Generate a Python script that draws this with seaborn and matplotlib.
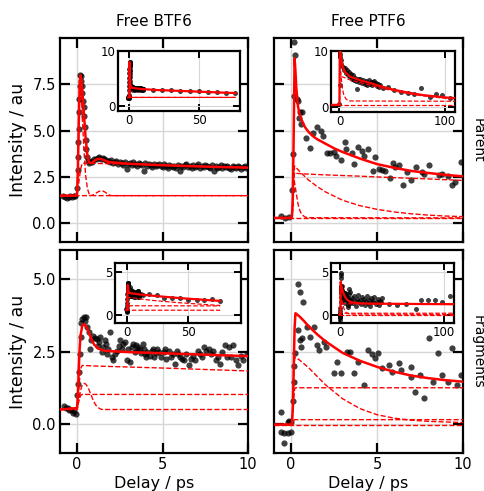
import matplotlib
matplotlib.use('Agg')
import matplotlib.pyplot as plt
import seaborn as sns

# ---------------- data ----------------
# Free BTF6, parent
tl_x = [-0.8, -0.7, -0.6, -0.5, -0.4, -0.3, -0.2, -0.1, 0.0, 0.03,
        0.06, 0.08, 0.1, 0.12, 0.14, 0.16, 0.18, 0.2, 0.23, 0.26,
        0.3, 0.34, 0.38, 0.42, 0.46, 0.5, 0.55, 0.6, 0.65, 0.7,
        0.8, 0.9, 1.0, 1.1, 1.2, 1.3, 1.4, 1.5, 1.6, 1.7,
        1.8, 1.9, 2.0, 2.1, 2.2, 2.3, 2.4, 2.5, 2.6, 2.7,
        2.8, 2.9, 3.0, 3.1, 3.2, 3.3, 3.4, 3.5, 3.6, 3.7,
        3.8, 3.9, 4.0, 4.1, 4.2, 4.3, 4.4, 4.5, 4.6, 4.7,
        4.8, 4.9, 5.0, 5.1, 5.2, 5.3, 5.4, 5.5, 5.6, 5.7,
        5.8, 5.9, 6.0, 6.1, 6.2, 6.3, 6.4, 6.5, 6.6, 6.7,
        6.8, 6.9, 7.0, 7.1, 7.2, 7.3, 7.4, 7.5, 7.6, 7.7,
        7.8, 7.9, 8.0, 8.1, 8.2, 8.3, 8.4, 8.5, 8.6, 8.7,
        8.8, 8.9, 9.0, 9.1, 9.2, 9.3, 9.4, 9.5, 9.6, 9.7,
        9.8, 9.9, 10.0]
tl_y = [1.5, 1.45, 1.4, 1.45, 1.5, 1.45, 1.5, 1.5, 1.9, 2.9,
        3.6, 4.4, 5.1, 6.0, 6.7, 7.4, 8.0, 7.95, 7.7, 7.4,
        7.05, 6.6, 6.3, 5.8, 5.2, 4.5, 4.0, 3.6, 3.35, 3.25,
        3.35, 3.3, 3.45, 3.5, 3.55, 3.6, 3.5, 3.55, 3.45, 3.4,
        3.35, 3.3, 3.4, 3.25, 3.3, 3.35, 3.2, 3.3, 3.25, 3.15,
        3.3, 2.92, 3.2, 3.25, 3.15, 3.3, 3.2, 3.1, 3.25, 3.2,
        3.15, 2.83, 3.25, 3.1, 3.2, 3.15, 3.05, 3.2, 3.1, 3.15,
        3.2, 3.1, 3.05, 3.2, 3.1, 3.0, 3.15, 3.1, 3.05, 3.1,
        3.0, 3.15, 2.85, 3.1, 3.05, 3.15, 3.2, 3.05, 3.1, 3.0,
        3.15, 3.05, 3.1, 3.2, 3.0, 3.1, 3.05, 3.15, 3.1, 3.05,
        3.0, 3.15, 2.85, 3.1, 3.0, 3.05, 3.15, 3.0, 3.1, 3.05,
        3.1, 3.0, 2.95, 3.1, 3.05, 3.0, 3.1, 3.05, 2.95, 3.05,
        3.1, 3.0, 3.05]
tl_tail_x = [17, 23.5, 30, 36.5, 43, 49.5, 56, 62.5, 69, 75.5]
tl_tail_y = [2.95, 2.9, 2.85, 2.75, 2.7, 2.6, 2.55, 2.45, 2.4, 2.25]

tl_fit_x = [-1, -0.1, 0.0, 0.05, 0.1, 0.15, 0.2, 0.25, 0.3, 0.4,
            0.5, 0.6, 0.7, 0.8, 0.9, 1.0, 1.2, 1.4, 1.6, 1.8,
            2.0, 2.5, 3, 4, 5, 6, 7, 8, 9, 10,
            20, 30, 40, 50, 60, 70, 76]
tl_fit_y = [1.5, 1.5, 1.6, 3.0, 5.5, 7.5, 8.0, 7.7, 7.2, 5.9,
            4.6, 3.7, 3.3, 3.25, 3.3, 3.38, 3.48, 3.48, 3.4, 3.33,
            3.3, 3.26, 3.22, 3.18, 3.14, 3.11, 3.08, 3.05, 3.03, 3.01,
            2.85, 2.75, 2.65, 2.55, 2.45, 2.35, 2.3]
tl_fast_x = [-1, -0.05, 0.0, 0.05, 0.1, 0.15, 0.2, 0.25, 0.3, 0.4, 0.5, 0.6, 0.7, 0.8, 1.0, 76]
tl_fast_y = [1.5, 1.5, 1.6, 2.9, 5.2, 7.0, 7.5, 7.0, 5.8, 4.0, 2.6, 1.9, 1.6, 1.52, 1.5, 1.5]
tl_step_x = [-1, 0.0, 0.1, 0.2, 0.3, 0.5, 1, 2, 4, 6, 8, 10, 20, 40, 60, 76]
tl_step_y = [1.5, 1.5, 2.2, 2.9, 3.25, 3.25, 3.24, 3.22, 3.18, 3.12, 3.06, 3.01, 2.85, 2.65, 2.45, 2.3]
tl_bump_x = [-1, 0.8, 0.9, 1.0, 1.1, 1.2, 1.3, 1.4, 1.5, 1.6, 1.7, 1.8, 1.9, 2.0, 76]
tl_bump_y = [1.5, 1.5, 1.52, 1.57, 1.63, 1.69, 1.74, 1.76, 1.75, 1.71, 1.65, 1.58, 1.53, 1.5, 1.5]

# Free PTF6, parent
tr_x = [-0.6, -0.34, -0.15, 0.05, 0.09, 0.15, 0.19, 0.23, 0.34, 0.4,
        0.46, 0.5, 0.58, 0.66, 0.89, 1.07, 1.28, 1.48, 1.72, 1.87,
        2.07, 2.26, 2.5, 2.6, 2.89, 3.13, 3.19, 3.52, 3.68, 3.91,
        4.11, 4.26, 4.5, 4.74, 4.89, 5.09, 5.28, 5.48, 5.74, 5.93,
        6.03, 6.26, 6.52, 6.72, 6.97, 7.25, 7.6, 7.75, 8.03, 8.58,
        8.77, 9.13, 9.36, 9.56, 9.91]
tr_y = [0.42, 0.31, 0.33, 1.8, 3.77, 6.85, 9.8, 9.08, 6.72, 6.63,
        5.67, 6.03, 5.34, 6.0, 4.62, 4.08, 4.86, 5.22, 4.98, 4.73,
        3.8, 3.8, 3.86, 3.64, 3.41, 4.37, 4.04, 3.8, 3.22, 4.13,
        3.89, 3.64, 4.0, 2.81, 3.59, 2.92, 2.9, 2.81, 2.45, 3.28,
        3.04, 3.17, 2.05, 2.77, 2.37, 3.04, 2.77, 2.68, 3.13, 2.63,
        2.68, 2.55, 2.05, 2.26, 3.32]
tr_fit_x = [-1, 0.0, 0.05, 0.1, 0.15, 0.2, 0.25, 0.3, 0.35, 0.4,
            0.5, 0.6, 0.7, 0.8, 1.0, 1.25, 1.5, 2, 2.5, 3,
            4, 5, 6, 7, 8, 9, 10]
tr_fit_y = [0.3, 0.3, 0.4, 1.5, 5.0, 8.9, 8.2, 7.3, 6.8, 6.3,
            5.85, 5.6, 5.4, 5.2, 4.95, 4.72, 4.55, 4.3, 4.05, 3.85,
            3.5, 3.2, 3.0, 2.83, 2.72, 2.62, 2.54]
tr_fast_x = [-1, 0.05, 0.1, 0.15, 0.2, 0.3, 0.4, 0.5, 0.6, 0.8, 1.0, 10]
tr_fast_y = [0.3, 0.3, 1.2, 2.4, 2.2, 1.6, 1.05, 0.72, 0.5, 0.35, 0.31, 0.3]
tr_med_x = [-1, 0.05, 0.1, 0.15, 0.2, 0.25, 0.5, 1, 1.5, 2, 3, 4, 5, 6, 7, 8, 9, 10]
tr_med_y = [0.3, 0.3, 1.0, 2.5, 3.1, 3.05, 2.8, 2.35, 2.0, 1.7, 1.25, 0.96, 0.76, 0.62, 0.52, 0.45, 0.4, 0.37]
tr_slow_x = [-1, 0.05, 0.1, 0.15, 0.2, 0.3, 1, 2, 4, 6, 8, 10]
tr_slow_y = [0.3, 0.3, 1.0, 2.3, 2.75, 2.7, 2.66, 2.62, 2.55, 2.47, 2.4, 2.32]
tr_base_x = [-1, 10]
tr_base_y = [0.27, 0.27]

# Free PTF6, parent, long-delay inset
tri_x = [0, 0.2, 0.3, 0.5, 1, 1.5,
         3, 4, 5, 6, 7, 8, 9, 10, 11, 12,
         13, 14, 15, 16, 17, 18, 19, 20, 21, 22,
         23, 24, 25, 26, 27, 28, 29, 30, 31, 32,
         33, 34, 35, 36, 37, 38, 39, 41,
         46, 52, 59, 65, 71, 78, 86, 92, 98, 105]
tri_y = [0.5, 3.9, 9.5, 9.0, 8.3, 7.6,
         7.2, 6.5, 6.9, 6.0, 6.6, 5.6, 6.2, 5.3, 5.8, 5.0,
         5.6, 4.8, 5.2, 4.6, 3.1, 5.0, 4.5, 4.9, 4.2, 4.7,
         4.4, 4.0, 4.6, 3.9, 4.3, 4.7, 4.1, 4.5, 3.8, 4.4,
         4.6, 4.0, 4.3, 3.7, 4.1, 3.5, 3.9, 3.4,
         3.6, 3.0, 2.7, 2.4, 2.2, 3.3, 1.8, 2.2, 2.1, 1.5]
tri_fit_x = [-8, 0, 0.3, 1, 2, 3, 5, 10, 20, 30, 40, 50, 60, 70, 80, 90, 100, 110]
tri_fit_y = [0.3, 0.3, 11, 9.5, 8.2, 7.3, 6.3, 5.4, 4.7, 4.2, 3.6, 3.1, 2.7, 2.35, 2.05, 1.85, 1.65, 1.5]
tri_slow_x = [-8, 0, 0.3, 5, 10, 20, 30, 40, 50, 60, 70, 80, 90, 100, 110]
tri_slow_y = [0.3, 0.3, 5.5, 5.2, 4.8, 4.3, 3.8, 3.3, 2.9, 2.5, 2.2, 1.9, 1.7, 1.5, 1.35]
tri_fast_x = [-8, 0, 0.3, 1, 2, 3, 4, 6, 8, 10, 110]
tri_fast_y = [0.3, 0.3, 9.0, 7.0, 4.5, 3.0, 2.2, 1.4, 1.1, 1.0, 0.95]
tri_base_x = [-8, 110]
tri_base_y = [0.3, 0.3]

# Free BTF6, fragments
bl_x = [-0.76, -0.65, -0.55, -0.45, -0.35, -0.24, -0.16, -0.08, 0.0, 0.06,
        0.1, 0.16, 0.2, 0.25, 0.31, 0.39, 0.45, 0.51, 0.59, 0.71,
        0.78, 0.84, 0.94, 1.04, 1.14, 1.22, 1.29, 1.36, 1.43, 1.53,
        1.61, 1.69, 1.75, 1.82, 1.92, 2.02, 2.12, 2.22, 2.35, 2.43,
        2.51, 2.61, 2.71, 2.8, 2.9, 3.0, 3.1, 3.2, 3.29, 3.37,
        3.45, 3.52, 3.59, 3.69, 3.76, 3.84, 3.91, 3.98, 4.05, 4.12,
        4.24, 4.37, 4.44, 4.51, 4.59, 4.67, 4.78, 4.92, 5.06, 5.14,
        5.22, 5.35, 5.49, 5.61, 5.75, 5.84, 5.92, 6.0, 6.14, 6.27,
        6.39, 6.53, 6.67, 6.78, 6.92, 7.06, 7.18, 7.31, 7.45, 7.57,
        7.71, 7.84, 7.96, 8.1, 8.24, 8.35, 8.49, 8.63, 8.75, 8.88,
        9.02, 9.14, 9.27, 9.41, 9.57, 9.73, 9.92]
bl_y = [0.62, 0.55, 0.54, 0.48, 0.5, 0.37, 0.45, 0.34, 0.99, 1.39,
        1.79, 2.42, 2.99, 3.5, 3.62, 3.68, 3.54, 3.7, 3.33, 3.16,
        2.59, 2.88, 3.05, 2.95, 2.93, 2.7, 2.82, 3.0, 2.48, 2.65,
        2.9, 2.76, 2.4, 2.59, 3.16, 2.31, 2.19, 2.42, 2.53, 2.7,
        2.88, 2.59, 2.76, 2.82, 2.19, 2.6, 2.13, 2.65, 2.76, 2.5,
        2.71, 2.55, 2.65, 2.59, 2.45, 2.76, 2.6, 2.42, 2.3, 2.48,
        2.36, 2.53, 2.6, 2.31, 2.45, 2.59, 2.48, 2.31, 2.48, 2.6,
        2.25, 2.53, 2.31, 2.42, 2.08, 2.53, 2.4, 2.31, 2.25, 2.19,
        2.4, 2.02, 2.25, 2.33, 2.19, 2.53, 2.42, 2.31, 2.65, 2.53,
        2.59, 2.42, 2.53, 2.19, 2.31, 2.08, 2.48, 2.71, 2.31, 2.65,
        2.31, 2.71, 2.19, 2.02, 2.36, 2.19, 2.42]
bl_tail_x = [11, 12.5, 17.5, 24.3, 29.8, 36.6, 43.4, 49.4, 56.6, 62.5, 69.4, 75.7]
bl_tail_y = [2.4, 2.3, 2.38, 2.22, 1.98, 1.9, 1.9, 1.7, 1.7, 1.7, 1.82, 1.63]
bl_fit_x = [-1, 0.0, 0.05, 0.1, 0.15, 0.2, 0.3, 0.4, 0.5, 0.6,
            0.7, 0.8, 0.9, 1.0, 1.2, 1.4, 1.6, 2, 3, 4,
            5, 6, 7, 8, 9, 10, 20, 30, 40, 50,
            60, 70, 76]
bl_fit_y = [0.5, 0.55, 1.1, 1.9, 2.6, 3.05, 3.38, 3.45, 3.38, 3.28,
            3.13, 2.98, 2.85, 2.74, 2.62, 2.56, 2.53, 2.51, 2.48, 2.46,
            2.44, 2.42, 2.4, 2.38, 2.36, 2.34, 2.2, 2.07, 1.95, 1.84,
            1.74, 1.64, 1.58]
bl_d1_x = [-1, 0.0, 0.1, 0.2, 0.3, 1, 5, 10, 20, 40, 60, 76]
bl_d1_y = [0.5, 0.5, 1.2, 1.9, 2.02, 2.0, 1.93, 1.83, 1.65, 1.4, 1.2, 1.05]
bl_d2_x = [-1, 0.0, 0.1, 0.2, 0.3, 76]
bl_d2_y = [0.5, 0.5, 0.8, 0.98, 1.02, 1.0]
bl_d3_x = [-1, 0.0, 0.1, 0.2, 0.3, 0.4, 0.5, 0.6, 0.7, 0.8, 0.9, 1.0, 1.1, 1.2, 1.3, 1.4, 1.5, 76]
bl_d3_y = [0.5, 0.52, 0.8, 1.15, 1.35, 1.4, 1.38, 1.3, 1.18, 1.03, 0.88, 0.75, 0.65, 0.58, 0.54, 0.51, 0.5, 0.5]

# Free PTF6, fragments
br_x = [-0.6, -0.6, -0.4, -0.4, -0.2, -0.2, -0.1, 0.0, 0.0, 0.1,
        0.14, 0.18, 0.22, 0.39, 0.51, 0.7, 0.39, 0.51, 0.55, 0.64,
        0.9, 1.09, 1.33, 1.48, 1.62, 1.91, 2.01, 2.5, 2.65, 2.89,
        3.24, 3.44, 3.63, 3.87, 4.26, 4.49, 4.69, 4.88, 5.08, 5.27,
        5.72, 5.86, 6.25, 6.41, 6.95, 6.99, 7.23, 7.48, 7.73, 8.01,
        8.26, 8.55, 8.75, 9.1, 9.34, 9.63, 9.88]
br_y = [0.43, -0.26, -0.3, -0.65, 0.06, -0.3, 0.1, -0.28, 0.08, 0.8,
        1.45, 2.0, 2.45, 4.82, 4.56, 4.22, 3.24, 2.9, 2.67, 2.95,
        3.36, 2.99, 3.36, 2.72, 2.55, 2.84, 2.67, 1.77, 2.15, 1.77,
        2.49, 2.49, 1.75, 2.15, 1.34, 2.55, 2.41, 2.26, 2.44, 1.92,
        2.03, 1.8, 2.09, 1.86, 1.95, 1.63, 1.11, 1.69, 0.89, 2.95,
        1.46, 2.44, 1.69, 1.46, 2.61, 1.34, 1.69]
br_tail_x = [11, 12, 13, 14, 15, 16, 17, 18, 19, 20,
             21, 22, 23, 24, 25, 26, 27, 28, 29, 30,
             31, 32, 33, 34, 35, 36, 37, 38, 39, 40,
             47, 55, 63, 72.8, 77.6, 84.6, 92, 98, 106.4]
br_tail_y = [1.9, 1.3, 2.1, 1.6, 1.0, 1.8, 2.3, 1.4, 1.7, 1.2,
             2.0, 1.5, 1.8, 1.1, 1.6, 2.2, 1.3, 1.7, 1.0, 1.9,
             1.4, 1.6, 2.0, 1.2, 1.5, 1.8, 1.1, 1.6, 1.4, 1.9,
             1.26, 1.06, 1.26, 0.67, 1.65, 1.74, 1.65, 1.45, 2.1]
br_fit_x = [-1, 0.0, 0.05, 0.1, 0.15, 0.2, 0.25, 0.3, 0.5, 0.75,
            1, 1.5, 2, 2.5, 3, 4, 5, 6, 7, 8,
            9, 10, 15, 20, 30, 50, 80, 110]
br_fit_y = [-0.02, -0.02, 0.0, 0.6, 2.0, 3.3, 3.82, 3.8, 3.7, 3.55,
            3.38, 3.1, 2.85, 2.65, 2.45, 2.18, 1.97, 1.8, 1.67, 1.58,
            1.51, 1.46, 1.35, 1.3, 1.27, 1.25, 1.22, 1.2]
br_d1_x = [-1, 0.0, 0.1, 0.15, 0.2, 0.25, 0.5, 1, 1.5, 2, 3, 4, 5, 6, 7, 8, 10, 110]
br_d1_y = [-0.02, -0.02, 0.5, 1.6, 2.25, 2.3, 2.2, 1.95, 1.65, 1.35, 0.87, 0.53, 0.32, 0.2, 0.13, 0.09, 0.05, 0.0]
br_d2_x = [-1, 0.0, 0.1, 0.2, 0.25, 110]
br_d2_y = [-0.02, -0.02, 0.5, 1.2, 1.25, 1.25]
br_d3_x = [-1, 0.0, 0.1, 0.2, 110]
br_d3_y = [-0.02, -0.02, 0.08, 0.15, 0.15]
br_base_x = [-1, 110]
br_base_y = [-0.04, -0.04]

titles = ['Free BTF6', 'Free PTF6']
row_labels = ['Parent', 'Fragments']

# ---------------- style ----------------
sns.set_style('ticks')
plt.rcParams['font.family'] = ['DejaVu Sans']
plt.rcParams.update({
    'axes.linewidth': 1.6,
    'axes.edgecolor': 'black',
    'text.color': 'black',
    'axes.labelcolor': 'black',
    'xtick.color': 'black',
    'ytick.color': 'black',
})


def draw(ax, px, py, curves, size, lw):
    sns.scatterplot(x=px, y=py, ax=ax, color='k', alpha=0.75, s=size,
                    linewidth=0, zorder=2)
    for i, (cx, cy) in enumerate(curves):
        if i == 0:
            sns.lineplot(x=cx, y=cy, ax=ax, color='red', lw=lw, sort=False,
                         estimator=None, zorder=4)
        else:
            sns.lineplot(x=cx, y=cy, ax=ax, color='red', lw=lw * 0.55,
                         linestyle='--', sort=False, estimator=None, zorder=3)


def style_main(ax, ylim, yticks):
    ax.set_xlim(-1, 10)
    ax.set_ylim(*ylim)
    ax.set_xticks([0, 5, 10])
    ax.set_yticks(yticks)
    ax.grid(True, color='#d6d6d6', lw=1)
    ax.set_axisbelow(True)
    ax.tick_params(direction='in', length=7, width=1.6, top=True, right=True,
                   labelsize=10.5, pad=3)


def style_inset(ins, xlim, ylim, xticks, yticks):
    ins.set_xlim(*xlim)
    ins.set_ylim(*ylim)
    ins.set_xticks(xticks)
    ins.set_yticks(yticks)
    ins.grid(True, color='#d6d6d6', lw=0.8)
    ins.set_axisbelow(True)
    ins.tick_params(direction='in', length=5, width=1.4, top=True, right=True,
                    labelsize=8.5, pad=2)
    for sp in ins.spines.values():
        sp.set_linewidth(1.6)


fig = plt.figure(figsize=(4.85, 4.91), dpi=100)
ax_tl = fig.add_axes([0.1237, 0.5071, 0.3876, 0.4155])
ax_tr = fig.add_axes([0.5649, 0.5071, 0.3897, 0.4155])
ax_bl = fig.add_axes([0.1237, 0.0774, 0.3876, 0.4134])
ax_br = fig.add_axes([0.5649, 0.0774, 0.3897, 0.4134])

# top left
draw(ax_tl, tl_x, tl_y, [(tl_fit_x, tl_fit_y), (tl_fast_x, tl_fast_y),
                         (tl_step_x, tl_step_y), (tl_bump_x, tl_bump_y)], 20, 1.8)
style_main(ax_tl, (-1, 10), [0, 2.5, 5, 7.5])
ins = ax_tl.inset_axes([0.309, 0.642, 0.649, 0.294])
draw(ins, tl_x + tl_tail_x, tl_y + tl_tail_y,
     [(tl_fit_x, tl_fit_y), (tl_fast_x, tl_fast_y),
      (tl_step_x, tl_step_y), (tl_bump_x, tl_bump_y)], 13, 1.6)
style_inset(ins, (-8, 79), (-1, 10), [0, 50], [0, 10])

# top right
draw(ax_tr, tr_x, tr_y, [(tr_fit_x, tr_fit_y), (tr_fast_x, tr_fast_y),
                         (tr_med_x, tr_med_y), (tr_slow_x, tr_slow_y),
                         (tr_base_x, tr_base_y)], 20, 1.8)
style_main(ax_tr, (-1, 10), [0, 2.5, 5, 7.5])
ins = ax_tr.inset_axes([0.302, 0.637, 0.656, 0.299])
draw(ins, tri_x, tri_y, [(tri_fit_x, tri_fit_y), (tri_slow_x, tri_slow_y),
                         (tri_fast_x, tri_fast_y), (tri_base_x, tri_base_y)], 13, 1.6)
style_inset(ins, (-8, 110), (-1, 10), [0, 100], [0, 10])

# bottom left
draw(ax_bl, bl_x, bl_y, [(bl_fit_x, bl_fit_y), (bl_d1_x, bl_d1_y),
                         (bl_d2_x, bl_d2_y), (bl_d3_x, bl_d3_y)], 20, 1.8)
style_main(ax_bl, (-1, 6), [0, 2.5, 5])
ins = ax_bl.inset_axes([0.293, 0.640, 0.670, 0.296])
draw(ins, bl_x + bl_tail_x, bl_y + bl_tail_y,
     [(bl_fit_x, bl_fit_y), (bl_d1_x, bl_d1_y),
      (bl_d2_x, bl_d2_y), (bl_d3_x, bl_d3_y)], 13, 1.6)
style_inset(ins, (-10, 93), (-1, 6), [0, 50], [0, 5])

# bottom right
draw(ax_br, br_x, br_y, [(br_fit_x, br_fit_y), (br_d1_x, br_d1_y),
                         (br_d2_x, br_d2_y), (br_d3_x, br_d3_y),
                         (br_base_x, br_base_y)], 20, 1.8)
style_main(ax_br, (-1, 6), [0, 2.5, 5])
ins = ax_br.inset_axes([0.302, 0.640, 0.651, 0.296])
draw(ins, br_x + br_tail_x, br_y + br_tail_y,
     [(br_fit_x, br_fit_y), (br_d1_x, br_d1_y), (br_d2_x, br_d2_y),
      (br_d3_x, br_d3_y), (br_base_x, br_base_y)], 13, 1.6)
style_inset(ins, (-9, 110), (-1, 6), [0, 100], [0, 5])

# labels
for ax, t in zip([ax_tl, ax_tr], titles):
    ax.set_title(t, fontsize=11, pad=9)
for ax in [ax_tl, ax_tr]:
    ax.tick_params(labelbottom=False)
for ax in [ax_tr, ax_br]:
    ax.tick_params(labelleft=False)
for ax in [ax_tl, ax_bl]:
    ax.set_ylabel('Intensity / au', fontsize=12.5, labelpad=4)
for ax in [ax_bl, ax_br]:
    ax.set_xlabel('Delay / ps', fontsize=11.5, labelpad=3)
for ax, t in zip([ax_tr, ax_br], row_labels):
    ax.text(1.08, 0.5, t, transform=ax.transAxes, rotation=270,
            va='center', ha='center', fontsize=10)

fig.savefig('out.png', dpi=100)
